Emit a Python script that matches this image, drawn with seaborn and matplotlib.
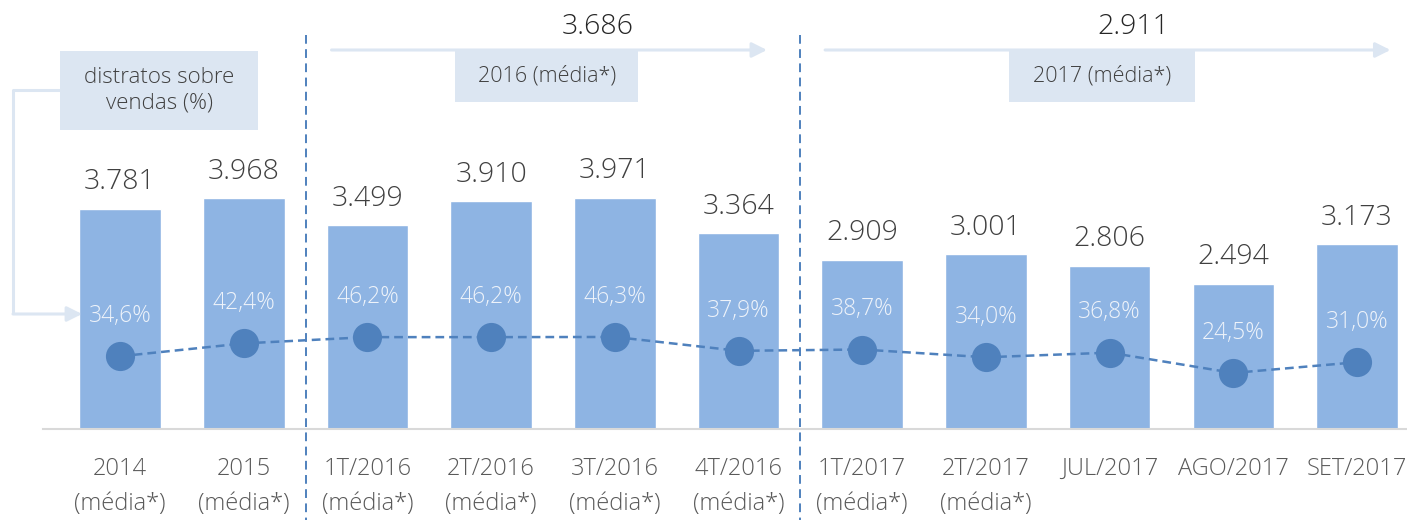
import matplotlib
matplotlib.use("Agg")
import matplotlib.pyplot as plt
import seaborn as sns
import numpy as np
import pandas as pd
from matplotlib.patches import Rectangle

# ---------------- data ----------------
categories = ["2014\n(média*)", "2015\n(média*)", "1T/2016\n(média*)", "2T/2016\n(média*)",
              "3T/2016\n(média*)", "4T/2016\n(média*)", "1T/2017\n(média*)", "2T/2017\n(média*)",
              "JUL/2017", "AGO/2017", "SET/2017"]
distratos = [3781, 3968, 3499, 3910, 3971, 3364, 2909, 3001, 2806, 2494, 3173]
pct_vendas = [34.6, 42.4, 46.2, 46.2, 46.3, 37.9, 38.7, 34.0, 36.8, 24.5, 31.0]
avg_labels = ["2016 (média*)", "2017 (média*)"]
avg_values = [3686, 2911]
note_label = "distratos sobre\nvendas (%)"

# ---------------- style ----------------
sns.set_style("white")
FONT = ["Open Sans", "DejaVu Sans"]
plt.rcParams["font.family"] = FONT

BAR = "#8EB4E3"
DOT = "#4F81BD"
PALE = "#DCE6F2"

W, H = 1407, 520
fig = plt.figure(figsize=(W / 100, H / 100), dpi=100)
ax = fig.add_axes([43 / W, 91 / H, 1 - 43 / W, 429 / H])

df = pd.DataFrame({"cat": categories, "val": distratos, "pct": pct_vendas})
sns.barplot(data=df, x="cat", y="val", color=BAR, width=0.66, saturation=1, ax=ax)

ax.set_xlim(-0.6225, 10.404)
ax.set_ylim(0, 7371)
ax.set_xlabel("")
ax.set_ylabel("")
ax.set_yticks([])
for s in ["top", "left", "right"]:
    ax.spines[s].set_visible(False)
ax.spines["bottom"].set_color("#D9D9D9")
ax.spines["bottom"].set_linewidth(1.5)
ax.tick_params(axis="x", length=0, pad=20, labelsize=17, labelcolor="#595959")
for lbl in ax.get_xticklabels():
    lbl.set_linespacing(1.6)
    lbl.set_fontweight("light")

# bar value labels
for i, v in enumerate(distratos):
    ax.annotate(f"{v:,}".replace(",", "."), (i, v), xytext=(0, 14), textcoords="offset points",
                ha="center", va="baseline", fontsize=20.5, color="#404040", fontweight="light")

# secondary axis for percentages
ax2 = ax.twinx()
ax2.set_ylim(-9.45, 250.4)
ax2.set_yticks([])
for s in ax2.spines.values():
    s.set_visible(False)
xs = np.arange(len(categories))
sns.lineplot(x=xs, y=pct_vendas, ax=ax2, color=DOT, marker="o", markersize=21,
             markeredgewidth=0, linewidth=1.8, zorder=3)
ax2.lines[0].set_dashes([3.5, 2])
ax2.set_xlim(ax.get_xlim())
for i, p in enumerate(pct_vendas):
    ax2.annotate(f"{p:.1f}%".replace(".", ","), (i, p), xytext=(0, 29), textcoords="offset points",
                 ha="center", va="center", fontsize=16.5, color="#EEF3FA", fontweight="light")

T = ax.transData
# vertical dashed separators
for xv in [1.5, 5.5]:
    ax2.plot([xv, xv], [6770, -1600], transform=T, color=DOT, lw=1.4,
             linestyle=(0, (4.5, 2.8)), clip_on=False, zorder=4)

# average arrows / boxes
arrow_spans = [(1.71, 5.23), (5.70, 10.27)]
box_spans = [(2.71, 4.19), (7.19, 8.69)]
num_x = [3.86, 8.19]
for (x0, x1), (b0, b1), nx, lab, val in zip(arrow_spans, box_spans, num_x, avg_labels, avg_values):
    ax2.annotate("", xy=(x1, 6512), xytext=(x0, 6512), xycoords=T, textcoords=T,
                 arrowprops=dict(arrowstyle="-|>,head_length=0.9,head_width=0.45", color=PALE,
                                 lw=2.2, shrinkA=0, shrinkB=0), annotation_clip=False, zorder=2)
    ax2.add_patch(Rectangle((b0, 5619), b1 - b0, 6512 - 5619, transform=T, facecolor=PALE,
                            edgecolor="none", clip_on=False, zorder=2))
    ax2.text((b0 + b1) / 2, (5619 + 6512) / 2, lab, transform=T, ha="center", va="center",
             fontsize=15.5, color="#404040", fontweight="light", zorder=3)
    ax2.text(nx, 6907, f"{val:,}".replace(",", "."), transform=T, ha="center", va="center",
             fontsize=20.5, color="#262626", fontweight="light", zorder=3)

# note box with connector
ax2.add_patch(Rectangle((-0.485, 5137), 1.116 + 0.485, 6495 - 5137, transform=T, facecolor=PALE,
                        edgecolor="none", clip_on=False, zorder=2))
ax2.text((-0.485 + 1.116) / 2, (5137 + 6495) / 2, note_label, transform=T, ha="center", va="center",
         fontsize=16, color="#404040", fontweight="light", linespacing=1.3, zorder=3)
ax2.plot([-0.485, -0.865, -0.865], [5825, 5825, 1976], transform=T, color=PALE, lw=2.2,
         clip_on=False, zorder=5, solid_capstyle="butt")
ax2.annotate("", xy=(-0.307, 1976), xytext=(-0.865, 1976), xycoords=T, textcoords=T,
             arrowprops=dict(arrowstyle="-|>,head_length=0.9,head_width=0.45", color=PALE,
                             lw=2.2, shrinkA=0, shrinkB=0), annotation_clip=False, zorder=5)

fig.savefig("out.png", dpi=100)
